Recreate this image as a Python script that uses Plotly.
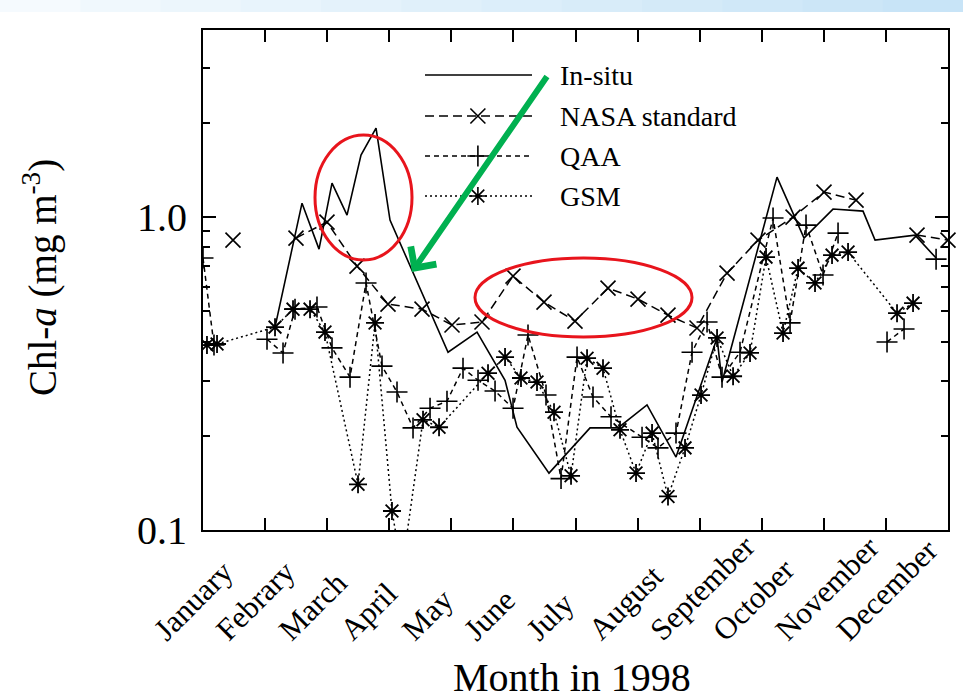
import plotly.graph_objects as go

# ---------------- data (x = fractional month, 0 = 1 Jan, 12 = 31 Dec) ----------------
months = ["January", "Febrary", "March", "April", "May", "June", "July",
          "August", "September", "October", "November", "December"]

insitu_x = [1.16, 1.595, 1.869, 2.078, 2.32, 2.545, 2.787, 3.012, 3.947, 4.414, 4.865,
            5.058, 5.573, 6.234, 6.685, 7.152, 7.619, 8.28, 8.36, 9.246, 9.681, 10.148,
            10.631, 10.825, 11.469, 11.808]
insitu_y = [0.445, 1.108, 0.79, 1.284, 1.015, 1.578, 1.924, 0.978, 0.37, 0.429, 0.301,
            0.213, 0.152, 0.212, 0.212, 0.251, 0.171, 0.411, 0.297, 1.342, 0.857, 1.061,
            1.045, 0.844, 0.876, 0.74]

nasa_x = [0.483, None, 1.498, 1.997, 2.481, 2.98, 3.528, 4.011, 4.494, 4.994, 5.493,
          5.992, 6.524, 7.007, 7.49, 7.957, 8.441, 8.94, 9.504, 10.003, 10.519, None,
          11.501, 12.0]
nasa_y = [0.844, None, 0.857, 0.964, 0.697, 0.527, 0.508, 0.452, 0.462, 0.648, 0.535,
          0.465, 0.593, 0.547, 0.486, 0.442, 0.662, 0.844, 1.0, 1.202, 1.133, None,
          0.876, 0.844]

qaa_x = [0.0, 0.177, None, 1.031, 1.289, 1.482, 1.836, 2.078, 2.368, 2.626, 2.883, 3.125,
         3.383, 3.657, 3.93, 4.188, 4.43, 4.704, 4.994, 5.235, 5.525, 5.767, 6.025,
         6.282, 6.572, 7.072, 7.329, 7.619, 7.877, 8.119, 8.36, 8.65, 9.182, 9.456,
         9.713, 9.987, 10.229, None, 11.018, 11.292, None, 11.808]
qaa_y = [0.74, 0.39, None, 0.407, 0.368, 0.508, 0.516, 0.382, 0.308, 0.616, 0.334, 0.276,
         0.212, 0.245, 0.258, 0.329, 0.301, 0.278, 0.245, 0.42, 0.27, 0.146, 0.357,
         0.266, 0.23, 0.198, 0.183, 0.204, 0.37, 0.462, 0.308, 0.37, 0.993, 0.459,
         0.943, 0.653, 0.889, None, 0.399, 0.439, None, 0.734]

gsm_x = [0.064, 0.226, 1.16, 1.45, 1.724, 1.965, 2.497, 2.771, 3.044, 3.206, 3.544,
         3.802, 4.591, 4.865, 5.122, 5.38, 5.654, 5.928, 6.186, 6.443, 6.717, 6.975,
         7.233, 7.49, 7.764, 8.022, 8.28, 8.538, 8.811, 9.069, 9.343, 9.585, 9.858,
         10.132, 10.39, 11.179, 11.437]
gsm_y = [0.39, 0.393, 0.445, 0.508, 0.508, 0.429, 0.14, 0.459, 0.115, 0.075, 0.225,
         0.213, 0.317, 0.357, 0.306, 0.297, 0.238, 0.149, 0.354, 0.329, 0.209, 0.152,
         0.204, 0.128, 0.183, 0.27, 0.411, 0.31, 0.368, 0.745, 0.426, 0.687, 0.616,
         0.756, 0.773, 0.493, 0.531]

series_names = ["In-situ", "NASA standard", "QAA", "GSM"]
y_ticks = [0.1, 1.0]
y_ticktext = ["0.1", "1.0"]
y_minor = [0.2, 0.3, 0.4, 0.5, 0.6, 0.7, 0.8, 0.9, 2, 3]

# ---------------- styles ----------------
FONT = "Liberation Serif"
styles = [
    dict(dash="solid", symbol=None),
    dict(dash="9px,5px", symbol="x-thin-open"),
    dict(dash="5px,4px", symbol="cross-thin-open"),
    dict(dash="2px,3px", symbol="asterisk-open"),
]
MS = 15

fig = go.Figure()

fig.add_trace(go.Scatter(x=insitu_x, y=insitu_y, mode="lines",
                         line=dict(color="black", width=1.6), showlegend=False))
fig.add_trace(go.Scatter(x=nasa_x, y=nasa_y, mode="lines+markers", cliponaxis=False,
                         line=dict(color="black", width=1.5, dash=styles[1]["dash"]),
                         marker=dict(symbol=styles[1]["symbol"], size=MS, color="black",
                                     line=dict(color="black", width=1.6)),
                         showlegend=False))
fig.add_trace(go.Scatter(x=qaa_x, y=qaa_y, mode="lines+markers",
                         line=dict(color="black", width=1.5, dash=styles[2]["dash"]),
                         marker=dict(symbol=styles[2]["symbol"], size=MS, color="black",
                                     line=dict(color="black", width=1.6)),
                         showlegend=False))
fig.add_trace(go.Scatter(x=gsm_x, y=gsm_y, mode="lines+markers",
                         line=dict(color="black", width=1.5, dash=styles[3]["dash"]),
                         marker=dict(symbol=styles[3]["symbol"], size=MS, color="black",
                                     line=dict(color="black", width=1.8)),
                         showlegend=False))

# ---------------- custom legend on an overlay axis (0..1 coords of the plot area) ----------------
L_X0, L_X1, L_XM, L_TX = 0.298, 0.4416, 0.369, 0.4765
L_ROWS = [0.91, 0.828, 0.748, 0.668]
for i, name in enumerate(series_names):
    st = styles[i]
    fig.add_trace(go.Scatter(x=[L_X0, L_X1], y=[L_ROWS[i]] * 2, mode="lines",
                             xaxis="x2", yaxis="y2",
                             line=dict(color="black", width=1.5, dash=st["dash"]),
                             showlegend=False, hoverinfo="skip"))
    if st["symbol"]:
        fig.add_trace(go.Scatter(x=[L_XM], y=[L_ROWS[i]], mode="markers",
                                 xaxis="x2", yaxis="y2",
                                 marker=dict(symbol=st["symbol"], size=MS, color="black",
                                             line=dict(color="black", width=1.6)),
                                 showlegend=False, hoverinfo="skip"))
    fig.add_annotation(x=L_TX, y=L_ROWS[i], xref="x2", yref="y2", text=name,
                       showarrow=False, xanchor="left", yanchor="middle",
                       font=dict(family=FONT, size=28, color="black"))

# ---------------- highlight annotations ----------------
PL, PR, PT, PB = 203, 948, 30, 530


def px(xp):
    return (xp - PL) / (PR - PL)


def py(yp):
    return (PB - yp) / (PB - PT)


# month labels: rotated 45 deg, left/bottom aligned below each month's centre
for i, m in enumerate(months):
    fig.add_annotation(x=i + 0.5, xref="x", y=py(650), yref="paper", text=m,
                       textangle=-45, showarrow=False, xanchor="left",
                       yanchor="bottom", xshift=-90,
                       font=dict(family=FONT, size=31, color="black"))

red = "#e8141c"
fig.add_shape(type="circle", xref="paper", yref="paper",
              x0=px(315), x1=px(412), y0=py(260), y1=py(135),
              line=dict(color=red, width=3))
fig.add_shape(type="circle", xref="paper", yref="paper",
              x0=px(475), x1=px(692), y0=py(337), y1=py(258),
              line=dict(color=red, width=3))
fig.add_annotation(x=px(412), y=py(272), xref="paper", yref="paper",
                   ax=136, ay=-197, showarrow=True, arrowhead=4, arrowsize=1,
                   arrowwidth=6, arrowcolor="#00b050", text="")

# top slide decoration band (light blue gradient)
n = 12
for k in range(n):
    t = k / (n - 1)
    r = int(245 + (200 - 245) * t)
    g = int(250 + (228 - 250) * t)
    b = int(254 + (247 - 254) * t)
    fig.add_shape(type="rect", xref="paper", yref="paper", layer="below",
                  x0=px(k * 963 / n), x1=px((k + 1) * 963 / n + 1),
                  y0=py(12), y1=py(0), line=dict(width=0),
                  fillcolor=f"rgb({r},{g},{b})")

# axis titles
fig.add_annotation(x=px(40), y=py(278), xref="paper", yref="paper",
                   xanchor="center", yanchor="middle",
                   text="Chl-<i>a</i> (mg m<sup>-3</sup>)", textangle=-90,
                   showarrow=False, font=dict(family=FONT, size=39, color="black"))
fig.add_annotation(x=px(572), y=py(677), xref="paper", yref="paper",
                   xanchor="center", yanchor="middle",
                   text="Month in 1998", showarrow=False,
                   font=dict(family=FONT, size=40, color="black"))

fig.update_layout(
    width=963, height=700,
    margin=dict(l=PL, r=963 - PR, t=PT, b=700 - PB),
    paper_bgcolor="white", plot_bgcolor="white",
    font=dict(family=FONT, color="black"),
    xaxis=dict(range=[0, 12], tickmode="array", tickvals=list(range(13)),
               ticks="inside", ticklen=12, tickwidth=1.5, tickcolor="black",
               showticklabels=False,
               showgrid=False, zeroline=False, showline=True, linecolor="black",
               linewidth=2, mirror="ticks"),
    yaxis=dict(type="log", range=[-1, 0.598], tickmode="array", tickvals=y_ticks,
               ticktext=y_ticktext, ticks="inside", ticklen=13, tickwidth=1.5,
               tickcolor="black", tickfont=dict(family=FONT, size=40),
               ticklabelstandoff=6,
               showgrid=False, zeroline=False, showline=True, linecolor="black",
               linewidth=2, mirror="ticks",
               minor=dict(tickmode="array", tickvals=y_minor, ticks="inside",
                          ticklen=7, tickwidth=1.5, tickcolor="black", showgrid=False)),
    xaxis2=dict(range=[0, 1], overlaying="x", visible=False, fixedrange=True),
    yaxis2=dict(range=[0, 1], overlaying="y", visible=False, fixedrange=True),
)

fig.write_html("out.html")
